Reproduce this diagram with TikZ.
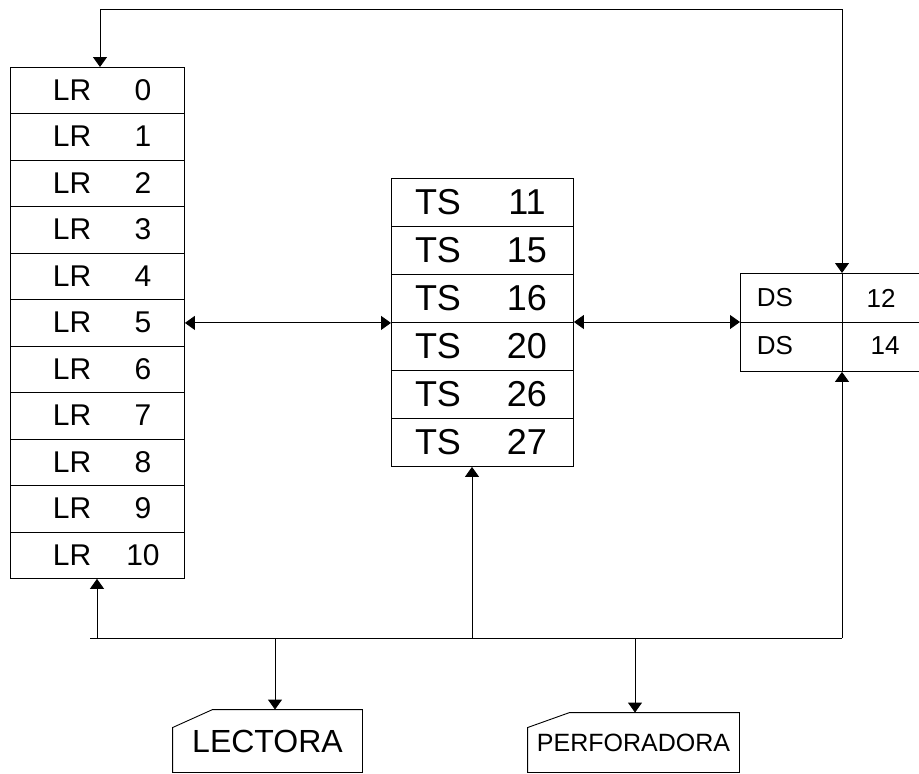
\documentclass[tikz,border=0pt]{standalone}
\usepackage{fontspec}
\setmainfont{Liberation Sans}
\usetikzlibrary{arrows.meta,calc}
\begin{document}
\begin{tikzpicture}[x=1pt,y=-1pt,
  line width=0.9pt,
  cell/.style={draw, rectangle, inner sep=0pt, anchor=north west},
  lrcell/.style={cell, minimum width=174pt, minimum height=46.45pt},
  tscell/.style={cell, minimum width=182pt, minimum height=48pt},
  dscell/.style={cell, minimum width=200pt, minimum height=49pt},
  lrtxt/.style={font=\fontsize{30}{30}\selectfont, inner sep=0pt},
  tstxt/.style={font=\fontsize{36}{36}\selectfont, inner sep=0pt},
  dstxt/.style={font=\fontsize{26}{26}\selectfont, inner sep=0pt},
  cardtxt/.style={inner sep=0pt},
  tip/.style={-{Triangle[length=10pt,width=14pt]}},
  twotip/.style={{Triangle[length=10pt,width=14pt]}-{Triangle[length=10pt,width=14pt]}}
]
\useasboundingbox (0,0) rectangle (919,774);
\clip (0,0) rectangle (919,774);

% LR stack
\foreach \i in {0,...,10} {
  \node[lrcell] (lr\i) at (10,{67+46.45*\i}) {};
  \node[lrtxt] (lrl\i) at (72,{67+46.45*\i+23.2}) {LR};
  \node[lrtxt] (lrn\i) at (143,{67+46.45*\i+23.2}) {\i};
}

% TS stack
\foreach \n [count=\k from 0] in {11,15,16,20,26,27} {
  \node[tscell] (ts\k) at (391,{178+48*\k}) {};
  \node[tstxt] (tsl\k) at (438,{178+48*\k+24}) {TS};
  \node[tstxt] (tsn\k) at (527,{178+48*\k+24}) {\n};
}

% DS box
\node[dscell] (ds1) at (740,273) {};
\node[dscell] (ds2) at (740,322) {};
\node[dstxt] (dsl1) at (775,298) {DS};
\node[dstxt] (dsn1) at (881,298) {12};
\node[dstxt] (dsl2) at (775,346) {DS};
\node[dstxt] (dsn2) at (885,346) {14};

% Cards
\node[cardtxt, minimum width=189pt, minimum height=62pt] (lect) at (267.5,741)
  {\fontsize{32}{32}\selectfont LECTORA};
\draw (lect.south west) -- ($(lect.north west)+(0,18)$) -- ($(lect.north west)+(40,0)$)
  -- (lect.north east) -- (lect.south east) -- cycle;
\node[cardtxt, minimum width=211pt, minimum height=59pt] (perf) at (633.5,742.5)
  {\fontsize{25}{25}\selectfont PERFORADORA};
\draw (perf.south west) -- ($(perf.north west)+(0,15)$) -- ($(perf.north west)+(42,0)$)
  -- (perf.north east) -- (perf.south east) -- cycle;

% coordinates
\coordinate (topL) at (100,9);
\coordinate (topR) at (842,9);
\coordinate (busL) at (90,638);
\coordinate (bLR) at (97,638);
\coordinate (bLe) at (275,638);
\coordinate (bTS) at (472,638);
\coordinate (bPe) at (635,638);
\coordinate (bDS) at (842,638);

% top loop
\draw[twotip] (lr0.north -| topL) -- (topL) -- (topR) -- (ds1.north -| topR);
% DS divider
\draw (ds1.north -| bDS) -- (ds2.south -| bDS);

% horizontal links
\draw[twotip] (lr5.east) -- (lr5.east -| ts3.west);
\draw[twotip] (ts3.north east) -- (ts3.north east -| ds2.west);

% bus
\draw (busL) -- (bDS);
\draw[tip] (bLR) -- (bLR |- lr10.south);
\draw[tip] (bTS) -- (bTS |- ts5.south);
\draw[tip] (bDS) -- (bDS |- ds2.south);
\draw[tip] (bLe) -- (bLe |- lect.north);
\draw[tip] (bPe) -- (bPe |- perf.north);
\end{tikzpicture}
\end{document}
